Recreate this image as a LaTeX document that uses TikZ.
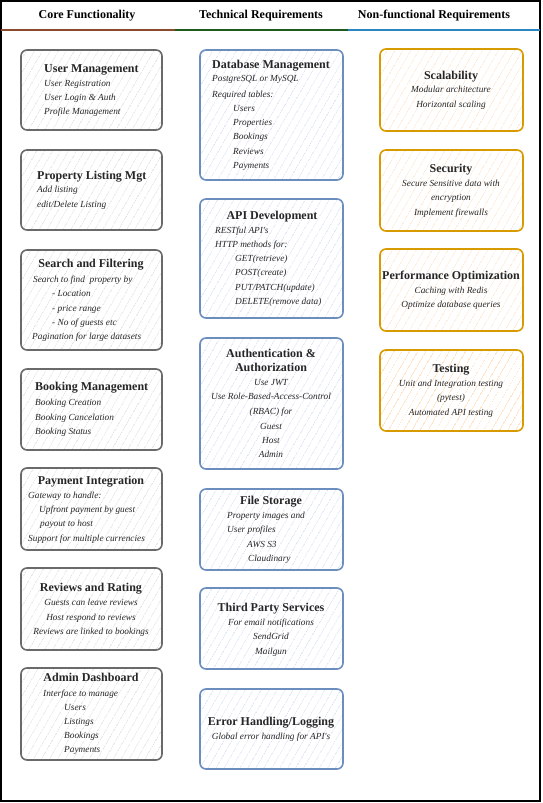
\documentclass[tikz,border=0pt]{standalone}
\usepackage{fontspec}
\setmainfont{Liberation Serif}
\newfontfamily\tms{Liberation Serif}
\usetikzlibrary{patterns.meta}
\definecolor{gstroke}{HTML}{6A6A6A}
\definecolor{ghatch}{HTML}{E2E2E2}
\definecolor{bstroke}{HTML}{6C8EBF}
\definecolor{bhatch}{HTML}{D6E4F8}
\definecolor{ostroke}{HTML}{D79B00}
\definecolor{ohatch}{HTML}{FFE4C8}
\definecolor{hbrown}{HTML}{8B4A2B}
\definecolor{hgreen}{HTML}{1E5B1E}
\definecolor{hblue}{HTML}{2A85C0}
\tikzset{
  box/.style={draw, rounded corners=6pt, line width=1.6pt, inner sep=0pt,
    pattern={Lines[angle=60,distance=6.5pt,line width=0.7pt]}},
  gbox/.style={box, draw=gstroke, pattern color=ghatch},
  bbox/.style={box, draw=bstroke, pattern color=bhatch},
  obox/.style={box, draw=ostroke, pattern color=ohatch},
  ttl/.style={font=\tms\fontsize{12}{14}\selectfont\bfseries, inner sep=0pt, text height=8.5pt, text depth=2.5pt, text=black!85},
  itm/.style={font=\tms\fontsize{9.3}{11}\selectfont\itshape, inner sep=0pt, text height=6.8pt, text depth=2.2pt, text=black!85},
  hdr/.style={font=\tms\fontsize{12}{14}\selectfont\bfseries, inner sep=0pt},
  L/.style={anchor=west}
}
\begin{document}
\begin{tikzpicture}[x=1pt,y=-1pt]
\useasboundingbox (0,0) rectangle (543,803);
\fill[white] (0,0) rectangle (543,803);
% frame
\draw[line width=1.6pt, black] (1,1) rectangle (540,801);
\coordinate (h0) at (1,30);
\coordinate (h1) at (175,30);
\coordinate (h2) at (348,30);
\coordinate (h3) at (540,30);
\draw[line width=1.6pt, hbrown] (h0) -- (h1);
\draw[line width=1.6pt, hgreen] (h1) -- (h2);
\draw[line width=1.6pt, hblue] (h2) -- (h3);
\node[hdr] (hc) at (87,16) {Core Functionality};
\node[hdr] (ht) at (261,16) {Technical Requirements};
\node[hdr] (hn) at (434,16) {Non-functional Requirements};

% ---------- Column 1 ----------
\node[gbox, minimum width=141pt, minimum height=80pt] (um) at (91.5,90) {};
\node[ttl,L] (um0) at (44,69) {User Management};
\node[itm,L] (um1) at (44,84) {User Registration};
\node[itm,L] (um2) at (44,98) {User Login \& Auth};
\node[itm,L] (um3) at (44,112) {Profile Management};

\node[gbox, minimum width=141pt, minimum height=80pt] (pl) at (91.5,190) {};
\node[ttl,L] (pl0) at (37,176) {Property Listing Mgt};
\node[itm,L] (pl1) at (37,190) {Add listing};
\node[itm,L] (pl2) at (37,205) {edit/Delete Listing};

\node[gbox, minimum width=141pt, minimum height=100pt] (sf) at (91.5,300) {};
\node[ttl] (sf0) at (91,264) {Search and Filtering};
\node[itm,L] (sf1) at (33,280) {Search to find\ \ property by};
\node[itm,L] (sf2) at (52,294) {- Location};
\node[itm,L] (sf3) at (52,309) {- price range};
\node[itm,L] (sf4) at (52,323) {- No of guests etc};
\node[itm,L] (sf5) at (32,337) {Pagination for large datasets};

\node[gbox, minimum width=141pt, minimum height=81pt] (bm) at (91.5,409.5) {};
\node[ttl,L] (bm0) at (35,387) {Booking Management};
\node[itm,L] (bm1) at (35,403) {Booking Creation};
\node[itm,L] (bm2) at (35,418) {Booking Cancelation};
\node[itm,L] (bm3) at (35,432) {Booking Status};

\node[gbox, minimum width=141pt, minimum height=82pt] (pi) at (91.5,509) {};
\node[ttl] (pi0) at (91,481) {Payment Integration};
\node[itm,L] (pi1) at (28,496) {Gateway to handle:};
\node[itm,L] (pi2) at (39,510) {Upfront payment by guest};
\node[itm,L] (pi3) at (40,524) {payout to host};
\node[itm,L] (pi4) at (28,539) {Support for multiple currencies};

\node[gbox, minimum width=141pt, minimum height=82pt] (rr) at (91.5,609) {};
\node[ttl] (rr0) at (91,588) {Reviews and Rating};
\node[itm] (rr1) at (91,603) {Guests can leave reviews};
\node[itm] (rr2) at (91,618) {Host respond to reviews};
\node[itm] (rr3) at (91,632) {Reviews are linked to bookings};

\node[gbox, minimum width=141pt, minimum height=92pt] (ad) at (91.5,714) {};
\node[ttl] (ad0) at (91,678) {Admin Dashboard};
\node[itm,L] (ad1) at (43,694) {Interface to manage};
\node[itm,L] (ad2) at (64,708) {Users};
\node[itm,L] (ad3) at (64,722) {Listings};
\node[itm,L] (ad4) at (64,736) {Bookings};
\node[itm,L] (ad5) at (64,750) {Payments};

% ---------- Column 2 ----------
\node[bbox, minimum width=143pt, minimum height=130pt] (db) at (271.5,115) {};
\node[ttl,L] (db0) at (212,65) {Database Management};
\node[itm,L] (db1) at (212,79) {PostgreSQL or MySQL};
\node[itm,L] (db2) at (212,95) {Required tables:};
\node[itm,L] (db3) at (233,109) {Users};
\node[itm,L] (db4) at (233,123) {Properties};
\node[itm,L] (db5) at (233,137) {Bookings};
\node[itm,L] (db6) at (233,152) {Reviews};
\node[itm,L] (db7) at (233,166) {Payments};

\node[bbox, minimum width=143pt, minimum height=119pt] (api) at (271.5,258.5) {};
\node[ttl] (api0) at (272,216) {API Development};
\node[itm,L] (api1) at (215,231) {RESTful API's};
\node[itm,L] (api2) at (215,245) {HTTP methods for:};
\node[itm,L] (api3) at (235,259) {GET(retrieve)};
\node[itm,L] (api4) at (235,273) {POST(create)};
\node[itm,L] (api5) at (235,288) {PUT/PATCH(update)};
\node[itm,L] (api6) at (235,302) {DELETE(remove data)};

\node[bbox, minimum width=143pt, minimum height=131pt] (au) at (271.5,403.5) {};
\node[ttl] (au0) at (271,354) {Authentication \&};
\node[ttl] (au1) at (271,368) {Authorization};
\node[itm] (au2) at (271,383) {Use JWT};
\node[itm] (au3) at (271,397) {Use Role-Based-Access-Control};
\node[itm] (au4) at (271,412) {(RBAC) for};
\node[itm] (au5) at (271,427) {Guest};
\node[itm] (au6) at (271,441) {Host};
\node[itm] (au7) at (271,455) {Admin};

\node[bbox, minimum width=143pt, minimum height=81pt] (fs) at (271.5,529.5) {};
\node[ttl] (fs0) at (271,501) {File Storage};
\node[itm,L] (fs1) at (227,516) {Property images and};
\node[itm,L] (fs2) at (227,530) {User profiles};
\node[itm,L] (fs3) at (247,545) {AWS S3};
\node[itm,L] (fs4) at (248,559) {Claudinary};

\node[bbox, minimum width=143pt, minimum height=81pt] (tp) at (271.5,628.5) {};
\node[ttl] (tp0) at (271,608) {Third Party Services};
\node[itm] (tp1) at (271,623) {For email notifications};
\node[itm] (tp2) at (271,637) {SendGrid};
\node[itm] (tp3) at (271,652) {Mailgun};

\node[bbox, minimum width=143pt, minimum height=80pt] (eh) at (271.5,729) {};
\node[ttl] (eh0) at (271,722) {Error Handling/Logging};
\node[itm] (eh1) at (271,737) {Global error handling for API's};

% ---------- Column 3 ----------
\node[obox, minimum width=143pt, minimum height=82pt] (sc) at (451.5,90) {};
\node[ttl] (sc0) at (451,76) {Scalability};
\node[itm] (sc1) at (451,90) {Modular architecture};
\node[itm] (sc2) at (451,105) {Horizontal scaling};

\node[obox, minimum width=143pt, minimum height=81pt] (se) at (451.5,190.5) {};
\node[ttl] (se0) at (451,169) {Security};
\node[itm] (se1) at (451,184) {Secure Sensitive data with};
\node[itm] (se2) at (451,198) {encryption};
\node[itm] (se3) at (451,213) {Implement firewalls};

\node[obox, minimum width=143pt, minimum height=82pt] (po) at (451.5,290) {};
\node[ttl] (po0) at (451,276) {Performance Optimization};
\node[itm] (po1) at (451,291) {Caching with Redis};
\node[itm] (po2) at (451,305) {Optimize database queries};

\node[obox, minimum width=143pt, minimum height=81pt] (te) at (451.5,390.5) {};
\node[ttl] (te0) at (451,369) {Testing};
\node[itm] (te1) at (451,384) {Unit and Integration testing};
\node[itm] (te2) at (451,398) {(pytest)};
\node[itm] (te3) at (451,413) {Automated API testing};
\end{tikzpicture}
\end{document}
